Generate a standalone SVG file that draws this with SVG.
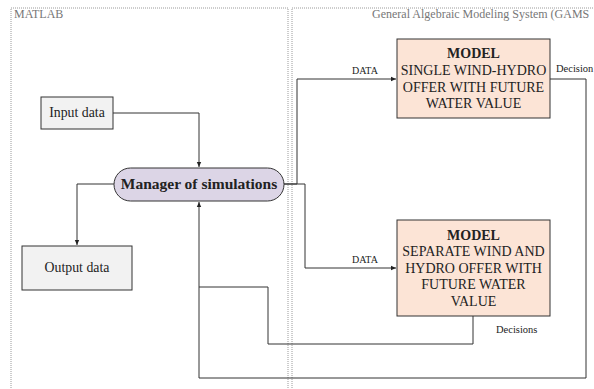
<svg xmlns="http://www.w3.org/2000/svg" width="594" height="389" viewBox="0 0 594 389">
<style>
  .frame{fill:none;stroke:#9a9a9a;stroke-width:1;stroke-dasharray:1 1}
  .flabel{font-family:"Liberation Serif",serif;font-size:12px;fill:#777}
  .box{stroke:#333;stroke-width:1}
  .t{font-family:"Liberation Serif",serif;fill:#222;text-anchor:middle}
  .lbl{font-family:"Liberation Serif",serif;fill:#222}
  .conn{fill:none;stroke:#333;stroke-width:1}
</style>
<defs>
  <marker id="arr" markerWidth="6" markerHeight="6" refX="5" refY="3" orient="auto" markerUnits="userSpaceOnUse">
    <path d="M0,0.8 L5,3 L0,5.2 Z" fill="#222"/>
  </marker>
</defs>
<rect width="594" height="389" fill="#fff"/>
<g id="frame-matlab">
  <rect class="frame" x="11" y="8" width="277" height="395"/>
  <text class="flabel" x="14" y="18">MATLAB</text>
</g>
<g id="frame-gams">
  <rect class="frame" x="292" y="8" width="320" height="395"/>
  <text class="flabel" x="372" y="18" font-size="12.2">General Algebraic Modeling System (GAMS</text>
</g>
<g id="connectors">
  <path class="conn" d="M113,113 H199 V167" marker-end="url(#arr)"/>
  <path class="conn" d="M114,184 H77 V245" marker-end="url(#arr)"/>
  <path class="conn" d="M284,184 H297 V79 H396" marker-end="url(#arr)"/>
  <path class="conn" d="M284,184 H305 V268 H396" marker-end="url(#arr)"/>
  <path class="conn" d="M550,79 H586 V378 H199 V202" marker-end="url(#arr)"/>
  <path class="conn" d="M473,316 V344 H268 V287 H199"/>
  <text class="lbl" x="352" y="73.5" font-size="10">DATA</text>
  <text class="lbl" x="352" y="263" font-size="10">DATA</text>
  <text class="lbl" x="556" y="72" font-size="10.5">Decision</text>
  <text class="lbl" x="496" y="333" font-size="10.5">Decisions</text>
</g>
<g id="input-data">
  <rect class="box" x="41" y="97" width="72" height="32" fill="#f2f2f2"/>
  <text class="t" x="77" y="117" font-size="13.8">Input data</text>
</g>
<g id="output-data">
  <rect class="box" x="22" y="246" width="110" height="44" fill="#f2f2f2"/>
  <text class="t" x="77" y="272" font-size="13.8">Output data</text>
</g>
<g id="manager">
  <rect class="box" x="114" y="168" width="170" height="33" rx="16.5" fill="#dcd5e6"/>
  <text class="t" x="199" y="189" font-size="15.5" font-weight="bold">Manager of simulations</text>
</g>
<g id="model-single">
  <rect class="box" x="397" y="39" width="153" height="79" fill="#fce4d6"/>
  <text class="t" x="473.5" y="58" font-size="14" font-weight="bold">MODEL</text>
  <text class="t" x="473.5" y="75" font-size="14">SINGLE WIND-HYDRO</text>
  <text class="t" x="473.5" y="91.5" font-size="14">OFFER WITH FUTURE</text>
  <text class="t" x="473.5" y="108" font-size="14">WATER VALUE</text>
</g>
<g id="model-separate">
  <rect class="box" x="397" y="220" width="153" height="96" fill="#fce4d6"/>
  <text class="t" x="473.5" y="239.5" font-size="14" font-weight="bold">MODEL</text>
  <text class="t" x="473.5" y="256" font-size="14">SEPARATE WIND AND</text>
  <text class="t" x="473.5" y="272.5" font-size="14">HYDRO OFFER WITH</text>
  <text class="t" x="473.5" y="289" font-size="14">FUTURE WATER</text>
  <text class="t" x="473.5" y="305.5" font-size="14">VALUE</text>
</g>
</svg>
